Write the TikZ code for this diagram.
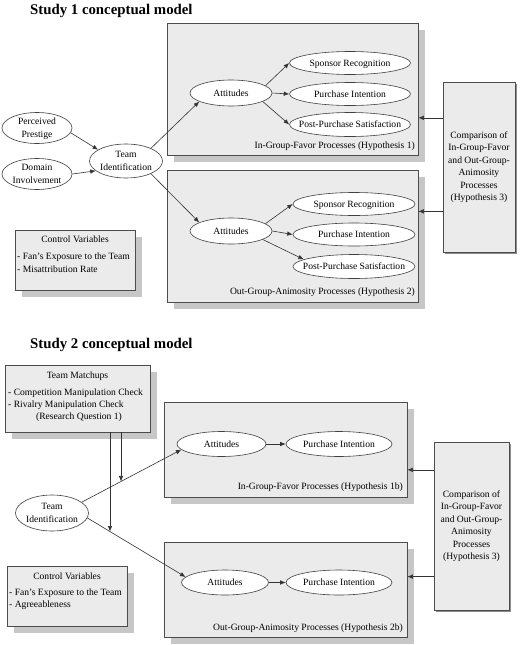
\documentclass[tikz,border=0pt]{standalone}
\usepackage{fontspec}
\setmainfont{Liberation Serif}
\usetikzlibrary{shapes.geometric,shadows,arrows.meta,calc,intersections}
\newcommand\ctext[1]{\raisebox{-3pt}[0pt][0pt]{\makebox[0pt]{\begin{tabular}{@{}c@{}}#1\end{tabular}}}}
\begin{document}
\begin{tikzpicture}[x=1pt,y=-1pt,
  font=\fontsize{9.6}{12.5}\selectfont,
  bx/.style={draw=black!70, fill=black!8, line width=0.7pt, inner sep=0pt,
    drop shadow={shadow xshift=7pt, shadow yshift=-7pt, fill=black!22, opacity=1}},
  cbx/.style={draw=black!70, fill=black!8, line width=0.7pt, inner sep=0pt, align=center,
    drop shadow={shadow xshift=1.5pt, shadow yshift=-1.5pt, fill=black!45, opacity=1}},
  el/.style={ellipse, draw=black!75, fill=white, line width=0.6pt, inner sep=0pt},
  conn/.style={draw=black!80, line width=0.6pt, -{Latex[length=5.5pt,width=4.5pt]}},
  txt/.style={inner sep=0pt, text height=6.8pt, text depth=2.2pt},
  ttl/.style={inner sep=0pt, anchor=west, font=\fontsize{14.8}{16}\selectfont\bfseries},
]
\useasboundingbox[fill=white] (0,0) rectangle (520,645);

% ---------------- Study 1 ----------------
\node[ttl] (t1) at (30,11) {Study 1 conceptual model};

\node[bx, minimum width=251pt, minimum height=132pt] (in1) at (292.5,89) {};
\node[bx, minimum width=251pt, minimum height=132pt] (out1) at (292.5,236) {};
\node[cbx, minimum width=72pt, minimum height=170pt] (cmp1) at (479,167)
  {Comparison of\\In-Group-Favor\\and Out-Group-\\Animosity\\Processes\\(Hypothesis 3)};
\node[bx, minimum width=120pt, minimum height=60pt] (ctrl1) at (75,260) {};
\node[txt] (c1t) at (75,240) {Control Variables};
\node[txt, anchor=west] (c1a) at (17,257) {- Fan's Exposure to the Team};
\node[txt, anchor=west] (c1b) at (17,270) {- Misattribution Rate};

\node[txt, anchor=east] (l1a) at (415,146) {In-Group-Favor Processes (Hypothesis 1)};
\node[txt, anchor=east] (l1b) at (415,292) {Out-Group-Animosity Processes (Hypothesis 2)};

\node[el, minimum width=70pt, minimum height=31pt] (pp) at (37,128) {\ctext{Perceived\\Prestige}};
\node[el, minimum width=70pt, minimum height=31pt] (di) at (37,174) {\ctext{Domain\\Involvement}};
\node[el, minimum width=73pt, minimum height=34pt] (tid1) at (126,161) {\ctext{Team\\Identification}};

\node[el, minimum width=82pt, minimum height=26pt] (att1a) at (231,93) {\ctext{Attitudes}};
\node[el, minimum width=121pt, minimum height=23pt] (sr1a) at (350,63) {\ctext{Sponsor Recognition}};
\node[el, minimum width=121pt, minimum height=23pt] (pi1a) at (350,94) {\ctext{Purchase Intention}};
\node[el, minimum width=121pt, minimum height=24pt] (pps1a) at (350,124.5) {\ctext{Post-Purchase Satisfaction}};

\node[el, minimum width=82pt, minimum height=26pt] (att1b) at (231,231) {\ctext{Attitudes}};
\node[el, minimum width=122pt, minimum height=23pt] (sr1b) at (354,204) {\ctext{Sponsor Recognition}};
\node[el, minimum width=122pt, minimum height=23pt] (pi1b) at (354,234.5) {\ctext{Purchase Intention}};
\node[el, minimum width=122pt, minimum height=24pt] (pps1b) at (354,266.5) {\ctext{Post-Purchase Satisfaction}};

\draw[conn] (pp.-8) -- (tid1.158);
\draw[conn] (di.east) -- (tid1.198);
\draw[conn] (tid1.27) -- (att1a.195);
\draw[conn] (tid1.-27) -- (att1b.165);
\draw[conn] (att1a.12) -- (sr1a.west);
\draw[conn] (att1a.east) -- (pi1a.west);
\draw[conn] (att1a.-15) -- (pps1a.west);
\draw[conn] (att1b.12) -- (sr1b.west);
\draw[conn] (att1b.east) -- (pi1b.west);
\draw[conn] (att1b.-15) -- (pps1b.172);

\coordinate (k1) at ($(cmp1.north west)!0.212!(cmp1.south west)$);
\coordinate (k2) at ($(cmp1.north west)!0.76!(cmp1.south west)$);
\draw[conn] (k1) -- (k1 -| in1.east);
\draw[conn] (k2) -- (k2 -| out1.east);

% ---------------- Study 2 ----------------
\node[ttl] (t2) at (30,345) {Study 2 conceptual model};

\node[bx, minimum width=145pt, minimum height=67pt] (tm) at (77.5,398.5) {};
\node[txt] (tmt) at (77.5,376) {Team Matchups};
\node[txt, anchor=west] (tma) at (8,393) {- Competition Manipulation Check};
\node[txt, anchor=west] (tmb) at (8,405) {- Rivalry Manipulation Check};
\node[txt] (tmc) at (79,417) {(Research Question 1)};

\node[bx, minimum width=243pt, minimum height=95pt] (in2) at (285.5,449.5) {};
\node[bx, minimum width=243pt, minimum height=95pt] (out2) at (285.5,589.5) {};
\node[cbx, minimum width=75pt, minimum height=168pt] (cmp2) at (471.5,526)
  {Comparison of\\In-Group-Favor\\and Out-Group-\\Animosity\\Processes\\(Hypothesis 3)};
\node[bx, minimum width=120pt, minimum height=60pt] (ctrl2) at (67,596) {};
\node[txt] (c2t) at (67,577) {Control Variables};
\node[txt, anchor=west] (c2a) at (9,593) {- Fan's Exposure to the Team};
\node[txt, anchor=west] (c2b) at (9,605) {- Agreeableness};

\node[txt, anchor=east] (l2a) at (403,487) {In-Group-Favor Processes (Hypothesis 1b)};
\node[txt, anchor=east] (l2b) at (403,628) {Out-Group-Animosity Processes (Hypothesis 2b)};

\node[el, minimum width=73pt, minimum height=36pt] (tid2) at (52,513) {\ctext{Team\\Identification}};
\node[el, minimum width=89pt, minimum height=25pt] (att2a) at (221.5,444) {\ctext{Attitudes}};
\node[el, minimum width=106pt, minimum height=25pt] (pi2a) at (339,444) {\ctext{Purchase Intention}};
\node[el, minimum width=87pt, minimum height=25pt] (att2b) at (225,582.5) {\ctext{Attitudes}};
\node[el, minimum width=106pt, minimum height=25pt] (pi2b) at (339,582.5) {\ctext{Purchase Intention}};

\draw[conn, name path=ln1] (tid2.20) -- (att2a.188);
\draw[conn, name path=ln2] (tid2.-8) -- (att2b.172);
\draw[conn] (att2a.east) -- (pi2a.west);
\draw[conn] (att2b.east) -- (pi2b.west);

\path[name path=vv1] (121,380) -- (121,600);
\path[name path=vv2] (110,380) -- (110,600);
\path[name intersections={of=ln1 and vv1, by=x1}];
\path[name intersections={of=ln2 and vv2, by=x2}];
\draw[conn] (tm.south -| x1) -- (x1);
\draw[conn] (tm.south -| x2) -- (x2);

\coordinate (k3) at ($(cmp2.north west)!0.167!(cmp2.south west)$);
\coordinate (k4) at ($(cmp2.north west)!0.80!(cmp2.south west)$);
\draw[conn] (k3) -- (k3 -| in2.east);
\draw[conn] (k4) -- (k4 -| out2.east);
\end{tikzpicture}
\end{document}
